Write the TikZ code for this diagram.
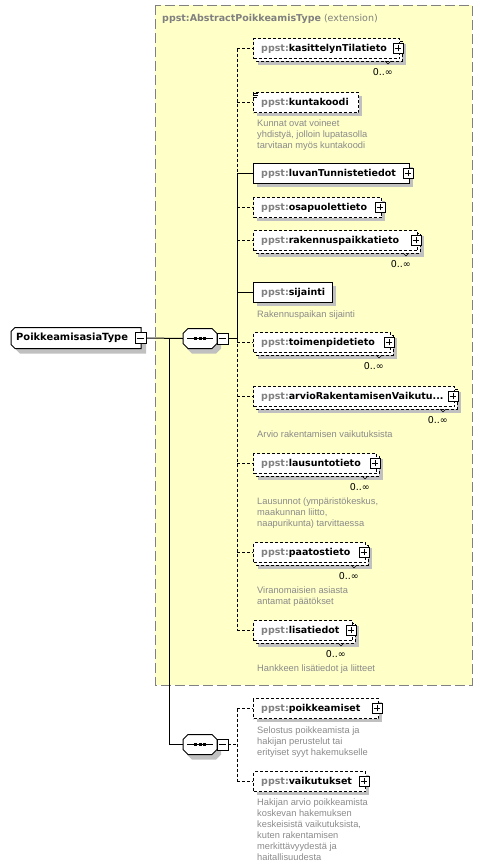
\documentclass[tikz,border=0pt]{standalone}
\usepackage{fontspec}
\setmainfont{DejaVu Sans}
\newfontfamily\descfont{Liberation Sans}
\definecolor{nsgray}{HTML}{808080}
\definecolor{descgray}{HTML}{8A8A8A}
\definecolor{shadowc}{HTML}{C0C0C0}
\definecolor{extfill}{HTML}{FFFFC8}
\definecolor{extline}{HTML}{808080}
\tikzset{
  dsh/.style={dash pattern=on 3pt off 2pt},
  elbox/.style={draw, line width=1pt, fill=white, minimum height=20, inner sep=0, rectangle},
  eltext/.style={inner sep=0, font=\bfseries\fontsize{9.5}{11}\selectfont},
  plusbox/.style={draw, fill=white, line width=0.8pt, minimum size=10, inner sep=0, rectangle},
  mult/.style={inner sep=0, font=\fontsize{9.5}{11}\selectfont},
  desc/.style={inner sep=0, align=left, text=descgray, font=\descfont\fontsize{9.3}{10.9}\selectfont},
  conn/.style={line width=1pt},
  anchorbox/.style={rectangle, draw=none, inner sep=0},
}
% #1 name, #2 top y, #3 width, #4 label, #5 line style, #6 multi, #7 plus
\newcommand\xEl[7]{%
  \pgfmathsetmacro\xa{253}%
  \pgfmathsetmacro\xb{253+#3}%
  \pgfmathsetmacro\ya{#2}%
  \pgfmathsetmacro\yb{#2+20}%
  \ifnum#6=1
    \fill[shadowc] (\xa+5,\ya+6) rectangle (\xb+7,\yb+7);
    \draw[line width=1pt,#5,fill=white] (\xa+3,\ya+3) rectangle (\xb+3,\yb+3);
  \else
    \fill[shadowc] (\xa+4,\ya+4) rectangle (\xb+4,\yb+4);
  \fi
  \node[elbox,#5,minimum width=#3,anchor=north west] (#1) at (\xa,\ya) {};
  \node[eltext,anchor=west] (#1-t) at ([xshift=8]#1.west) {\textcolor{nsgray}{ppst:}#4};
  \ifnum#6=1
    \draw[line width=0.6pt] (\xb-14,\yb+3) -- (\xb-11,\yb+6) -- (\xb-8,\yb+3);
    \node[mult,anchor=east] (#1-m) at (\xb-6,\yb+14) {0..∞};
  \fi
  \ifnum#7=1
    \node[plusbox] (#1-p) at (\xb-1,\ya+10) {};
    \draw[line width=0.8pt] ([xshift=2]#1-p.west) -- ([xshift=-2]#1-p.east)
      ([yshift=2]#1-p.south) -- ([yshift=-2]#1-p.north);
  \fi
}
% octagon outline: x1 y1 x2 y2 chamfer
\newcommand\octo[6]{%
  \path[#6] (#1+#5,#2) -- (#3-#5,#2) -- (#3,#2+#5) -- (#3,#4-#5) -- (#3-#5,#4)
    -- (#1+#5,#4) -- (#1,#4-#5) -- (#1,#2+#5) -- cycle;
}
\begin{document}
\begin{tikzpicture}[x=1pt,y=-1pt]
\useasboundingbox (0,0) rectangle (483,868);
% extension region
\draw[fill=extfill, draw=extline, line width=1pt, dash pattern=on 10pt off 4pt] (155,5) rectangle (472,685);
\node[inner sep=0, anchor=west, text=nsgray, font=\fontsize{9.5}{11}\selectfont] (title) at (162,19) {\textbf{ppst:AbstractPoikkeamisType} (extension)};

\coordinate (sp) at (237,0);

% elements
\xEl{kas}{38}{146}{kasittelynTilatieto}{dsh}{1}{1}
\xEl{kun}{92}{105}{kuntakoodi}{dsh}{0}{0}
\draw[line width=0.8pt] (253,93.5) -- (258,93.5) (253,95.5) -- (258,95.5) (253,97.5) -- (257,97.5);
\xEl{luv}{163}{156}{luvanTunnistetiedot}{solid}{0}{1}
\xEl{osa}{197}{128}{osapuolettieto}{dsh}{0}{1}
\xEl{rak}{230}{164}{rakennuspaikkatieto}{dsh}{1}{1}
\xEl{sij}{282}{79}{sijainti}{solid}{0}{0}
\xEl{toi}{332}{137}{toimenpidetieto}{dsh}{1}{1}
\xEl{arv}{386}{201}{arvioRakentamisenVaikutu...}{dsh}{1}{1}
\xEl{lau}{453}{123}{lausuntotieto}{dsh}{1}{1}
\xEl{paa}{542}{112}{paatostieto}{dsh}{1}{1}
\xEl{lis}{620}{99}{lisatiedot}{dsh}{1}{1}
\xEl{poi}{698}{125}{poikkeamiset}{dsh}{0}{1}
\xEl{vai}{771}{112}{vaikutukset}{dsh}{0}{1}

% descriptions
\node[desc,anchor=north west] (kun-d) at (257,120) {Kunnat ovat voineet\\yhdistyä, jolloin lupatasolla\\tarvitaan myös kuntakoodi};
\node[desc,anchor=north west] (sij-d) at (257,311) {Rakennuspaikan sijainti};
\node[desc,anchor=north west] (arv-d) at (257,431) {Arvio rakentamisen vaikutuksista};
\node[desc,anchor=north west] (lau-d) at (257,498) {Lausunnot (ympäristökeskus,\\maakunnan liitto,\\naapurikunta) tarvittaessa};
\node[desc,anchor=north west] (paa-d) at (257,587) {Viranomaisien asiasta\\antamat päätökset};
\node[desc,anchor=north west] (lis-d) at (257,665) {Hankkeen lisätiedot ja liitteet};
\node[desc,anchor=north west] (poi-d) at (257,727) {Selostus poikkeamista ja\\hakijan perustelut tai\\erityiset syyt hakemukselle};
\node[desc,anchor=north west] (vai-d) at (257,799) {Hakijan arvio poikkeamista\\koskevan hakemuksen\\keskeisistä vaikutuksista,\\kuten rakentamisen\\merkittävyydestä ja\\haitallisuudesta};

% root
\fill[shadowc] (20,332.5) -- (146,332.5) -- (146,353.5) -- (20,353.5) -- (16,349.5) -- (16,336.5) -- cycle;
\draw[line width=1pt, fill=white] (15,327.5) -- (141,327.5) -- (141,348.5) -- (15,348.5) -- (11,344.5) -- (11,331.5) -- cycle;
\node[anchorbox, minimum width=130, minimum height=21, anchor=north west] (root) at (11,327.5) {};
\node[eltext, anchor=west, font=\bfseries\fontsize{9.9}{11}\selectfont] (root-t) at (16,338) {PoikkeamisasiaType};
\node[plusbox, minimum size=11] (root-m) at (140.5,338) {};
\draw[line width=0.8pt] ([xshift=2]root-m.west) -- ([xshift=-2]root-m.east);

% sequences
\foreach \s/\yy in {seqa/338.5, seqb/744.5}{
  \octo{187}{\yy-5}{221}{\yy+15}{5}{fill=shadowc}
  \octo{183}{\yy-10}{217}{\yy+10}{5}{draw, line width=1pt, fill=white}
  \node[anchorbox, minimum width=34, minimum height=20] (\s) at (200,\yy) {};
  \draw[line width=1pt] ([xshift=-13]\s.center) -- ([xshift=13]\s.center);
  \foreach \dx in {-4.5,0,4.5}{
    \fill ([xshift=\dx]\s.center) ++(-1.5,-1.5) rectangle ++(3,3);
  }
  \node[plusbox, minimum size=11] (\s-m) at (222.5,\yy) {};
  \draw[line width=0.8pt] ([xshift=2]\s-m.west) -- ([xshift=-2]\s-m.east);
}

% root connectors
\coordinate (junc) at (169,338.5);
\draw[conn] (root-m.east) -- (seqa.west);
\draw[conn] (junc) |- (seqb.west);

% sequence 1 spine
\draw[conn] (seqa-m.east) -- (sp |- seqa-m.east);
\draw[conn,dsh] (sp |- kas.west) -- (sp |- luv.west);
\draw[conn] (sp |- luv.west) -- (sp |- seqa-m.east);
\draw[conn,dsh] (sp |- seqa-m.east) -- (sp |- lis.west);
\foreach \e in {kas,kun,osa,rak,toi,arv,lau,paa,lis}{
  \draw[conn,dsh] (sp |- \e.west) -- (\e.west);
}
\foreach \e in {luv,sij}{
  \draw[conn] (sp |- \e.west) -- (\e.west);
}

% sequence 2 spine
\draw[conn,dsh] (seqb-m.east) -- (sp |- seqb-m.east);
\draw[conn,dsh] (sp |- poi.west) -- (sp |- vai.west);
\foreach \e in {poi,vai}{
  \draw[conn,dsh] (sp |- \e.west) -- (\e.west);
}
\end{tikzpicture}
\end{document}
